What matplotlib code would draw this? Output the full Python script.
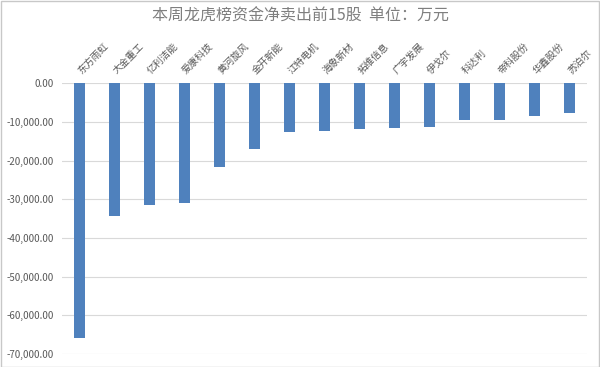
import numpy as np
import matplotlib.pyplot as plt
from matplotlib.ticker import FuncFormatter

plt.rcParams['font.family'] = ['Noto Sans CJK SC', 'DejaVu Sans']

stocks = ["东方雨虹", "大金重工", "亿利洁能", "爱康科技", "黄河旋风", "金开新能", "江特电机",
          "海象新材", "拓维信息", "广宇发展", "伊戈尔", "科达利", "帝科股份", "华鑫股份", "苏泊尔"]
net_sell = [-65800, -34300, -31400, -31000, -21600, -17000, -12700,
            -12300, -11800, -11600, -11200, -9600, -9400, -8500, -7600]

fig = plt.figure(figsize=(6, 3.67), dpi=100)
ax = fig.add_axes([0.103, 0.035, 0.875, 0.738])

x = np.arange(len(stocks))
ax.bar(x, net_sell, width=0.32, color="#4f81bd", zorder=3)

ax.set_xlim(-0.5, len(stocks) - 0.5)
ax.set_ylim(-70000, 0)
ax.set_yticks(np.arange(-70000, 1, 10000))
ax.yaxis.set_major_formatter(FuncFormatter(lambda v, p: f"{v:,.2f}"))
ax.grid(axis="y", color="#d9d9d9", linewidth=0.8, zorder=0)

ax.xaxis.tick_top()
ax.set_xticks(x)
ax.set_xticklabels(stocks, rotation=45, ha="left", va="center", rotation_mode="anchor",
                   fontsize=7, color="#595959")
ax.tick_params(axis="x", length=0, pad=8)
ax.tick_params(axis="y", length=0, labelsize=7, labelcolor="#595959", pad=6)

for s in ax.spines.values():
    s.set_visible(False)

fig.text(0.5, 0.955, "本周龙虎榜资金净卖出前15股  单位：万元", ha="center", va="center",
         fontsize=11.5, color="#7f7f7f")

fig.patches.append(plt.Rectangle((0.001, 0.001), 0.998, 0.997, transform=fig.transFigure,
                                 fill=False, edgecolor="#c8c8c8", linewidth=1))

fig.savefig("out.png", dpi=100)
